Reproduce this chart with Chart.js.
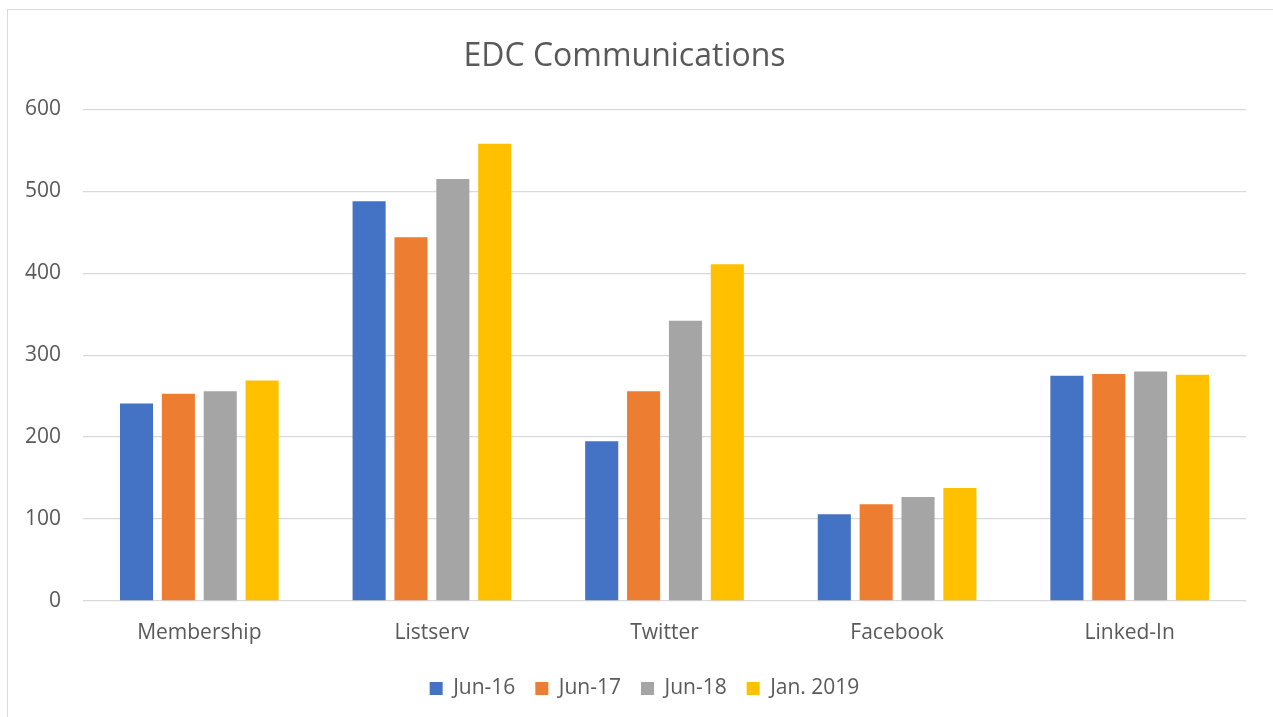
<!DOCTYPE html>
<html>
<head>
<meta charset="utf-8">
<title>EDC Communications</title>
<script src="https://cdn.jsdelivr.net/npm/chart.js@4.4.1/dist/chart.umd.min.js"></script>
<style>
  body { margin: 0; background: #fff; overflow: hidden; }
  #frame { position: absolute; left: 7px; top: 9px; width: 1300px; height: 800px; border: 1px solid #d9d9d9; }
  #wrap { position: absolute; left: 0; top: 0; width: 1273px; height: 717px; }
</style>
</head>
<body>
<div id="frame"></div>
<div id="wrap"><canvas id="MyChart"></canvas></div>
<script>
// values
var categories = ['Membership', 'Listserv', 'Twitter', 'Facebook', 'Linked-In'];
var jun16 = [241, 488, 195, 106, 275];
var jun17 = [253, 444, 256, 118, 277];
var jun18 = [256, 515, 342, 127, 280];
var jan2019 = [269, 558, 411, 138, 276];
var yTicks = [0, 100, 200, 300, 400, 500, 600];

var font = "'Open Sans', sans-serif";
var textColor = '#595959';

const data = {
  labels: categories,
  datasets: [
    { label: 'Jun-16', backgroundColor: '#4472C4', data: jun16 },
    { label: 'Jun-17', backgroundColor: '#ED7D31', data: jun17 },
    { label: 'Jun-18', backgroundColor: '#A5A5A5', data: jun18 },
    { label: 'Jan. 2019', backgroundColor: '#FFC000', data: jan2019 }
  ]
};

// excel centres the legend on the whole frame, not on the plot
const legendShift = {
  id: 'legendShift',
  afterLayout: function (chart) {
    chart.legend.left += 20;
    chart.legend.right += 20;
  }
};

const config = {
  type: 'bar',
  data: data,
  plugins: [legendShift],
  options: {
    responsive: true,
    maintainAspectRatio: false,
    animation: false,
    datasets: {
      bar: { categoryPercentage: 0.72, barPercentage: 0.79 }
    },
    layout: { padding: { left: 3, right: 27, top: 20, bottom: 8 } },
    scales: {
      x: {
        grid: { display: false, drawTicks: false },
        border: { display: false },
        ticks: { color: textColor, font: { family: font, size: 21 }, padding: 19 },
        afterFit: function (axis) { axis.height = 57; }
      },
      y: {
        min: yTicks[0],
        max: yTicks[yTicks.length - 1],
        afterBuildTicks: function (axis) {
          axis.ticks = yTicks.map(function (v) { return { value: v }; });
        },
        grid: { color: '#D9D9D9', lineWidth: 1.3, drawTicks: false },
        border: { display: false },
        ticks: { color: textColor, font: { family: font, size: 21 }, padding: 22 }
      }
    },
    plugins: {
      title: {
        display: true,
        text: 'EDC Communications',
        color: textColor,
        font: { family: font, size: 32, weight: 'normal' },
        padding: { top: 18, bottom: 33 }
      },
      legend: {
        position: 'bottom',
        labels: {
          color: textColor,
          font: { family: font, size: 21 },
          boxWidth: 13,
          boxHeight: 13,
          padding: 20
        }
      },
      tooltip: { enabled: false }
    }
  }
};

const myChart = new Chart(document.getElementById('MyChart'), config);
</script>
</body>
</html>
